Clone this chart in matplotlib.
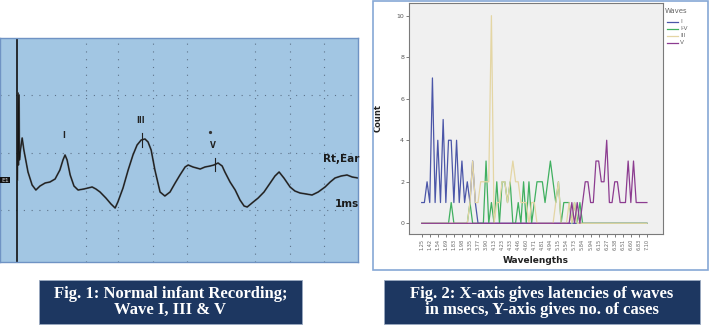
import matplotlib
matplotlib.use("Agg")
import matplotlib.pyplot as plt
from matplotlib.patches import Rectangle

W, H = 711, 325

# ---------------- data: Fig. 1 waveform (ms, arbitrary amplitude) ----------------
wave_points = [(0.01, 0.0), (0.03, 4.35), (0.04, 0.75), (0.06, 4.25), (0.07, 1.0), (0.10, 1.5),
               (0.15, 2.1), (0.20, 1.5), (0.32, 0.4), (0.44, -0.25), (0.55, -0.5), (0.67, -0.3),
               (0.82, -0.15), (0.96, -0.1), (1.11, 0.05), (1.25, 0.5), (1.34, 1.0), (1.40, 1.25),
               (1.46, 1.0), (1.55, 0.25), (1.66, -0.3), (1.78, -0.5), (1.95, -0.45), (2.19, -0.35),
               (2.30, -0.45), (2.42, -0.6), (2.59, -0.9), (2.74, -1.2), (2.86, -1.4), (2.94, -1.1),
               (3.09, -0.4), (3.24, 0.5), (3.38, 1.25), (3.50, 1.75), (3.62, 2.0), (3.73, 2.05),
               (3.82, 1.9), (3.91, 1.5), (4.02, 0.5), (4.17, -0.6), (4.31, -0.8), (4.46, -0.6),
               (4.61, -0.15), (4.75, 0.25), (4.90, 0.65), (4.99, 0.75), (5.13, 0.65), (5.34, 0.55),
               (5.48, 0.65), (5.63, 0.7), (5.74, 0.75), (5.86, 0.85), (5.98, 0.7), (6.06, 0.4),
               (6.21, -0.1), (6.36, -0.5), (6.50, -1.0), (6.62, -1.3), (6.71, -1.35), (6.85, -1.15),
               (7.03, -0.9), (7.20, -0.6), (7.38, -0.15), (7.52, 0.2), (7.64, 0.4), (7.78, 0.1),
               (7.96, -0.35), (8.10, -0.55), (8.25, -0.65), (8.43, -0.7), (8.60, -0.75),
               (8.78, -0.6), (8.98, -0.35), (9.13, -0.1), (9.27, 0.1), (9.45, 0.2), (9.62, 0.25),
               (9.77, 0.15), (9.94, 0.1)]
peak_labels = ["I", "III", "V"]
peak_t = [1.40, 3.64, 5.77]
peak_a = [1.85, 2.6, 1.35]

# ---------------- data: Fig. 2 line chart ----------------
tick_labels = ["1.25", "1.42", "1.54", "1.69", "1.83", "1.98", "3.35", "3.77", "3.90", "4.13",
               "4.23", "4.33", "4.46", "4.60", "4.71", "4.81", "4.94", "5.15", "5.54", "5.73",
               "5.84", "5.94", "6.15", "6.27", "6.38", "6.51", "6.60", "6.83", "7.10"]
wave_I = [1, 1, 2, 1, 7, 1, 4, 1, 5, 1, 4, 4, 1, 4, 1, 3, 1, 2, 1, 3, 1] + [0] * 64
wave_IV = ([0] * 11 + [1] + [0] * 6 + [1] + [0] * 5 +
           [3, 0, 1, 0, 2, 0, 2, 2, 1, 2, 0, 0, 1, 0, 2, 0, 2, 0, 1, 2, 2, 2, 1, 2, 3, 2, 1, 2,
            0, 1, 1, 1, 0, 1, 0, 1, 0] + [0] * 24)
wave_III = ([0] * 18 + [1, 3, 1, 1, 2, 2, 2, 2, 10, 0, 1, 1, 2, 2, 1, 2, 3, 2, 2, 1, 1, 1, 0, 1,
                        1, 0, 0, 0, 0, 0, 0, 0, 1, 2, 0, 0, 0, 1, 0, 1, 0] + [0] * 26)
wave_V = ([0] * 56 + [1, 0, 1, 0, 1, 2, 2, 1, 1, 3, 3, 2, 2, 4, 1, 1, 2, 2, 1, 1, 1, 3, 1, 3,
                      1, 1, 1, 1, 1])
series_names = ["I", "I-V", "III", "V"]
series_colors = ["#4b56a8", "#40b060", "#e4d6a4", "#8c3c90"]

# ---------------- figure ----------------
fig = plt.figure(figsize=(W / 100, H / 100), dpi=100)
fig.patch.set_facecolor("white")


def rect(x0, y0, x1, y1):
    return [x0 / W, 1 - y1 / H, (x1 - x0) / W, (y1 - y0) / H]


# ---- left panel: ABR recording ----
axL = fig.add_axes(rect(0, 38, 358, 262))
axL.set_facecolor("#a2c6e3")
axL.set_xlim(-0.496, 9.94)
axL.set_ylim(-4.1, 7.1)
for s in axL.spines.values():
    s.set_color("#6f93c4")
    s.set_linewidth(1.0)
axL.set_xticks([])
axL.set_yticks([])
for gx in [2.0, 2.94, 3.96, 4.96, 6.94, 7.96, 8.95]:
    axL.axvline(gx, color="#4d5f73", lw=0.8, ls=(0, (1, 6)), alpha=0.8)
for gy in [4.25, 1.35, -1.5]:
    axL.axhline(gy, color="#4d5f73", lw=0.8, ls=(0, (1, 6)), alpha=0.8)
axL.axvline(0.0, color="#111111", lw=1.2)
wave_t = [p[0] for p in wave_points]
wave_a = [p[1] for p in wave_points]
axL.plot(wave_t, wave_a, color="#3a3a3a", lw=1.3, alpha=0.8)
axL.plot(wave_t, wave_a, color="#151515", lw=0.6)
for lab, t, a in zip(peak_labels, peak_t, peak_a):
    axL.text(t - 0.05, a + 0.15, lab, ha="center", va="bottom", fontsize=5.5,
             fontweight="bold", color="#222222")
axL.plot([3.64, 3.64], [1.65, 2.35], color="#222222", lw=0.8)
axL.plot([5.77, 5.77], [0.45, 1.1], color="#222222", lw=0.8)
axL.plot([5.63], [2.4], marker="o", ms=1.3, color="#333333")
axL.text(9.98, 1.05, "Rt,Ear", ha="right", va="center", fontsize=7.5, fontweight="bold",
         color="#1a1a1a")
axL.text(9.98, -1.2, "1ms", ha="right", va="center", fontsize=7.5, fontweight="bold",
         color="#1a1a1a")
axL.text(-0.47, 0.0, "E1", ha="left", va="center", fontsize=4.5, color="#dddddd",
         bbox=dict(boxstyle="square,pad=0.15", fc="#111111", ec="none"))

# ---- right panel border ----
fig.patches.append(Rectangle((373 / W, 1 - 270 / H), (708 - 373) / W, (270 - 1) / H,
                             transform=fig.transFigure, fill=False, ec="#86a8d6", lw=1.2))

# ---- right panel chart ----
axR = fig.add_axes(rect(409, 3, 663, 234))
axR.set_facecolor("#f0f0f0")
n_cat = len(wave_I)
x = list(range(n_cat))
for vals, name, col in zip([wave_I, wave_IV, wave_III, wave_V], series_names, series_colors):
    axR.plot(x[:len(vals)], vals, color=col, lw=0.9, label=name)
axR.set_xlim(-4.74, 90.0)
axR.set_ylim(-0.515, 10.61)
axR.set_yticks([0, 2, 4, 6, 8, 10])
axR.set_yticklabels(["0", "2", "4", "6", "8", "10"], fontsize=4.5, color="#555555")
axR.set_xticks(list(range(0, n_cat, 3)))
axR.set_xticklabels(tick_labels, rotation=90, fontsize=3.6, color="#666666")
axR.tick_params(axis="both", length=2.5, width=0.6, color="#666666", pad=1)
for s in axR.spines.values():
    s.set_color("#7a7a7a")
    s.set_linewidth(0.8)
axR.set_ylabel("Count", fontsize=6, fontweight="bold", color="#222222", labelpad=10)
axR.set_xlabel("Wavelengths", fontsize=6.5, fontweight="bold", color="#222222", labelpad=4)

# legend (manual, right of plot)
fig.text(665 / W, 1 - 11 / H, "Waves", fontsize=5, color="#666666", va="center", ha="left")
for i, (name, col) in enumerate(zip(series_names, series_colors)):
    yy = 1 - (21.5 + 7.1 * i) / H
    fig.lines.append(plt.Line2D([666.5 / W, 678 / W], [yy, yy], transform=fig.transFigure,
                                color=col, lw=0.9))
    fig.text(680 / W, yy, name, fontsize=4.2, color="#666666", va="center", ha="left")

# ---- captions ----
caps = [((39, 280, 302, 324), "Fig. 1: Normal infant Recording;\nWave I, III & V"),
        ((384, 280, 700, 324), "Fig. 2: X-axis gives latencies of waves\nin msecs, Y-axis gives no. of cases")]
for (x0, y0, x1, y1), txt in caps:
    fig.patches.append(Rectangle((x0 / W, 1 - y1 / H), (x1 - x0) / W, (y1 - y0) / H,
                                 transform=fig.transFigure, fc="#1d3761", ec="#9aa9c0", lw=0.6))
    fig.text((x0 + x1) / 2 / W, 1 - (y0 + y1) / 2 / H, txt, ha="center", va="center",
             fontsize=12, fontweight="bold", color="white", family="Liberation Serif",
             linespacing=1.0)

fig.savefig("out.png", dpi=100, facecolor="white")
